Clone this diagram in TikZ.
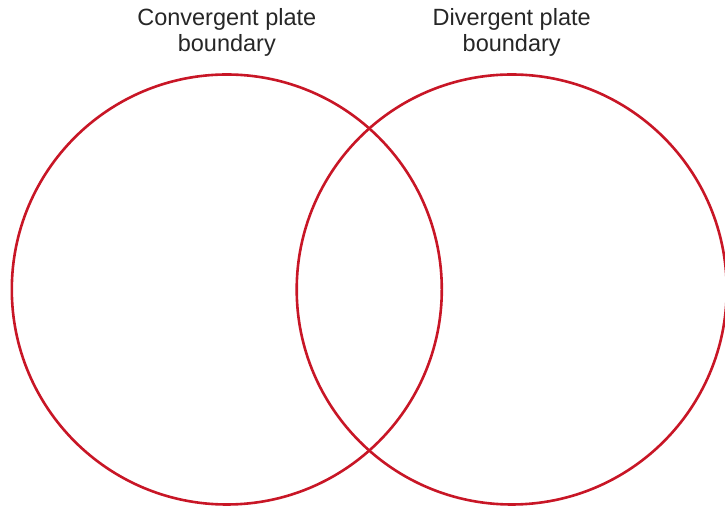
\documentclass[tikz,border=0pt]{standalone}
\usepackage{fontspec}
\setmainfont{Liberation Sans}
\definecolor{vennred}{RGB}{200,22,38}
\begin{document}
\begin{tikzpicture}[x=1pt,y=1pt,
  ring/.style={draw=vennred,line width=2.6pt},
  lbl/.style={align=center,inner sep=0pt,anchor=base,text=black!85,
    font=\fontsize{23.5}{26}\selectfont}]
\useasboundingbox (0,0) rectangle (725,508);
\draw[ring] (226.8,218.5) circle[radius=215];
\draw[ring] (511.7,218.5) circle[radius=215];
\node[lbl] (conv) at (226.8,456) {Convergent plate\\boundary};
\node[lbl] (div) at (511.7,456) {Divergent plate\\boundary};
\end{tikzpicture}
\end{document}
